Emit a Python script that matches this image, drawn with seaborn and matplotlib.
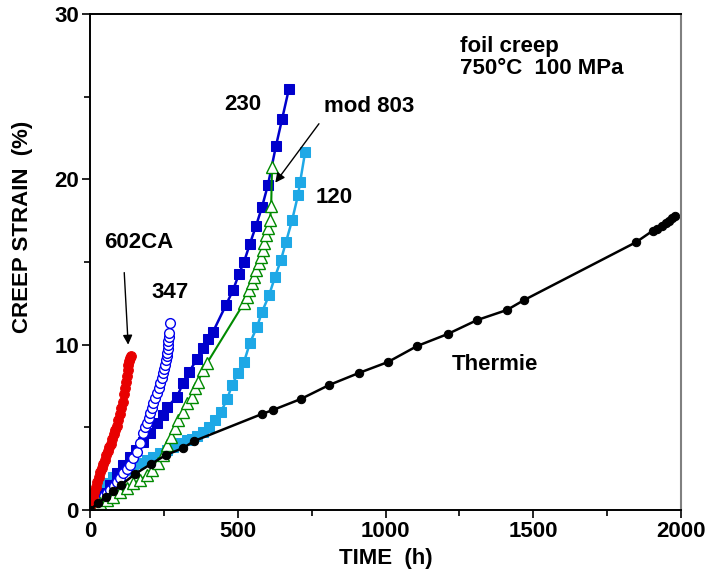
import matplotlib
matplotlib.use("Agg")
import matplotlib.pyplot as plt
import seaborn as sns
from matplotlib.ticker import MultipleLocator

# creep curves (time in h, strain in %)
t_120 = [0, 10, 34, 58, 78, 102, 125, 146, 169, 193, 213, 237, 261, 281, 305, 328, 345, 362,
         382, 403, 423, 443, 464, 481, 501, 521, 541, 565, 582, 606, 626, 646, 663, 684, 704, 711, 728]
e_120 = [0, 0.6, 1.2, 1.63, 2.0, 2.24, 2.42, 2.6, 2.84, 3.02, 3.2, 3.45, 3.63, 3.81, 4.05, 4.23, 4.3, 4.48,
         4.72, 5.02, 5.44, 5.93, 6.72, 7.56, 8.29, 8.95, 10.1, 11.07, 11.98, 13.0, 14.1, 15.12, 16.2, 17.54, 19.06, 19.84, 21.66]

t_230 = [0, 7, 24, 44, 68, 91, 112, 135, 156, 179, 203, 227, 247, 261, 294, 315, 335, 362, 382,
         399, 416, 460, 484, 504, 521, 541, 562, 582, 602, 629, 650, 673]
e_230 = [0, 0.3, 0.6, 1.03, 1.51, 2.24, 2.72, 3.2, 3.63, 4.11, 4.66, 5.26, 5.75, 6.23, 6.84, 7.68, 8.35, 9.13, 9.8,
         10.35, 10.77, 12.4, 13.3, 14.28, 15.0, 16.1, 17.2, 18.33, 19.66, 22.0, 23.65, 25.47]

t_347 = [0, 10, 22, 34, 46, 58, 68, 80, 91, 102, 112, 124, 135, 146, 159, 169, 179, 187, 193, 198,
         203, 208, 213, 220, 227, 232, 237, 242, 247, 251, 254, 257, 259, 261, 263, 264, 265, 266, 268, 271]
e_347 = [0, 0.18, 0.4, 0.6, 0.85, 1.05, 1.2, 1.45, 1.7, 1.95, 2.24, 2.5, 2.72, 3.15, 3.5, 4.05, 4.66, 5.0, 5.26, 5.55,
         5.87, 6.15, 6.47, 6.8, 7.08, 7.4, 7.68, 8.0, 8.29, 8.55, 8.77, 9.05, 9.3, 9.5, 9.75, 10.0, 10.25, 10.45, 10.7, 11.3]

t_803 = [0, 10, 34, 58, 78, 102, 125, 146, 169, 193, 210, 230, 247, 261, 274, 288, 298, 315, 328, 345,
         355, 365, 382, 396, 521, 531, 538, 548, 555, 562, 572, 579, 585, 589, 596, 602, 609, 613, 616]
e_803 = [0, 0.18, 0.42, 0.6, 0.79, 1.09, 1.33, 1.63, 1.81, 2.12, 2.42, 2.84, 3.33, 3.93, 4.42, 4.96, 5.44, 5.93, 6.47, 6.84,
         7.38, 7.74, 8.47, 8.89, 12.52, 12.89, 13.31, 13.73, 14.1, 14.52, 14.94, 15.31, 15.73, 16.15, 16.64, 17.06, 17.54, 18.39, 20.75]

t_602 = [0, 5, 10, 15, 20, 25, 30, 35, 40, 45, 50, 55, 60, 65, 70, 75, 80, 85, 90, 95,
         100, 105, 110, 115, 118, 121, 124, 127, 130, 133, 136, 139]
e_602 = [0, 0.45, 0.8, 1.1, 1.4, 1.7, 2.0, 2.3, 2.55, 2.8, 3.05, 3.3, 3.6, 3.8, 4.0, 4.3, 4.6, 4.85, 5.1, 5.45,
         5.8, 6.2, 6.55, 7.0, 7.4, 7.75, 8.1, 8.45, 8.75, 9.0, 9.2, 9.3]

t_thermie = [0, 27, 54, 78, 105, 152, 206, 257, 315, 352, 582, 619, 714, 809, 910, 1008, 1107, 1211,
             1310, 1411, 1469, 1848, 1905, 1920, 1935, 1950, 1960, 1970, 1980]
e_thermie = [0, 0.42, 0.79, 1.15, 1.51, 2.18, 2.78, 3.33, 3.75, 4.17, 5.81, 6.05, 6.72, 7.56, 8.29, 8.95, 9.92, 10.65,
             11.49, 12.1, 12.7, 16.2, 16.9, 17.0, 17.15, 17.35, 17.5, 17.65, 17.8]

sns.set_style("white")
plt.rcParams["font.family"] = ["Liberation Sans", "DejaVu Sans"]
plt.rcParams["font.weight"] = "bold"
plt.rcParams["text.color"] = "black"
plt.rcParams["axes.labelcolor"] = "black"
plt.rcParams["xtick.color"] = "black"
plt.rcParams["ytick.color"] = "black"

fig = plt.figure(figsize=(7.09, 5.75), dpi=100)
ax = fig.add_axes([0.127, 0.113, 0.8335, 0.8626])

sns.lineplot(x=t_120, y=e_120, ax=ax, color="#1EA8E6", lw=1.8, marker="s", ms=7,
             mec="#1EA8E6", mfc="#1EA8E6", sort=False, estimator=None)
sns.lineplot(x=t_230, y=e_230, ax=ax, color="#0000CC", lw=1.8, marker="s", ms=7,
             mec="#0000CC", mfc="#0000CC", sort=False, estimator=None)
sns.lineplot(x=t_347, y=e_347, ax=ax, color="#0000EE", lw=1.3, marker="o", ms=7,
             mec="#0000EE", mfc="white", mew=1, sort=False, estimator=None)
sns.lineplot(x=t_803, y=e_803, ax=ax, color="#008A00", lw=1.5, marker="^", ms=8,
             mec="#008A00", mfc="white", mew=1, sort=False, estimator=None)
sns.lineplot(x=t_602, y=e_602, ax=ax, color="#E80000", lw=1.8, marker="o", ms=7,
             mec="#E80000", mfc="#E80000", sort=False, estimator=None)
sns.lineplot(x=t_thermie, y=e_thermie, ax=ax, color="black", lw=1.8, marker="o", ms=6,
             mec="black", mfc="black", sort=False, estimator=None)

ax.set_xlim(0, 2000)
ax.set_ylim(0, 30)
ax.xaxis.set_major_locator(MultipleLocator(500))
ax.xaxis.set_minor_locator(MultipleLocator(250))
ax.yaxis.set_major_locator(MultipleLocator(10))
ax.yaxis.set_minor_locator(MultipleLocator(5))
ax.tick_params(which="both", direction="out", color="black", width=1.2, labelsize=16)
ax.tick_params(which="major", length=6)
ax.tick_params(which="minor", length=4)
ax.tick_params(axis="x", which="both", bottom=True, pad=2)
ax.tick_params(axis="y", which="both", left=True, pad=2)

for side in ["left", "bottom", "top"]:
    ax.spines[side].set_color("black")
    ax.spines[side].set_linewidth(1.4)
ax.spines["right"].set_color("#808080")
ax.spines["right"].set_linewidth(1.5)

ax.set_xlabel("TIME  (h)", fontsize=16, fontweight="bold", labelpad=4)
ax.set_ylabel("CREEP STRAIN  (%)", fontsize=16, fontweight="bold")
ax.yaxis.set_label_coords(-0.097, 0.57)

lbl = dict(fontsize=16, fontweight="bold", ha="center", va="center")
ax.text(518, 24.5, "230", **lbl)
ax.text(827, 18.9, "120", **lbl)
ax.text(272, 13.15, "347", **lbl)
ax.text(1370, 8.8, "Thermie", **lbl)
ax.text(1252, 28.05, "foil creep", fontsize=16, fontweight="bold", ha="left", va="center")
ax.text(1252, 26.7, "750°C  100 MPa", fontsize=16, fontweight="bold", ha="left", va="center")

arrow = dict(arrowstyle="-|>", color="black", lw=1, mutation_scale=14)
ax.annotate("602CA", xy=(129, 10.0), xytext=(166, 16.2), ha="center", va="center",
            fontsize=16, fontweight="bold",
            arrowprops=dict(arrow, shrinkA=12, shrinkB=0, relpos=(0.27, 0.0)))
ax.annotate("mod 803", xy=(627, 19.8), xytext=(944, 24.4), ha="center", va="center",
            fontsize=16, fontweight="bold",
            arrowprops=dict(arrow, shrinkA=3, shrinkB=0, relpos=(0.0, 0.0)))

fig.savefig("out.png", dpi=100)
